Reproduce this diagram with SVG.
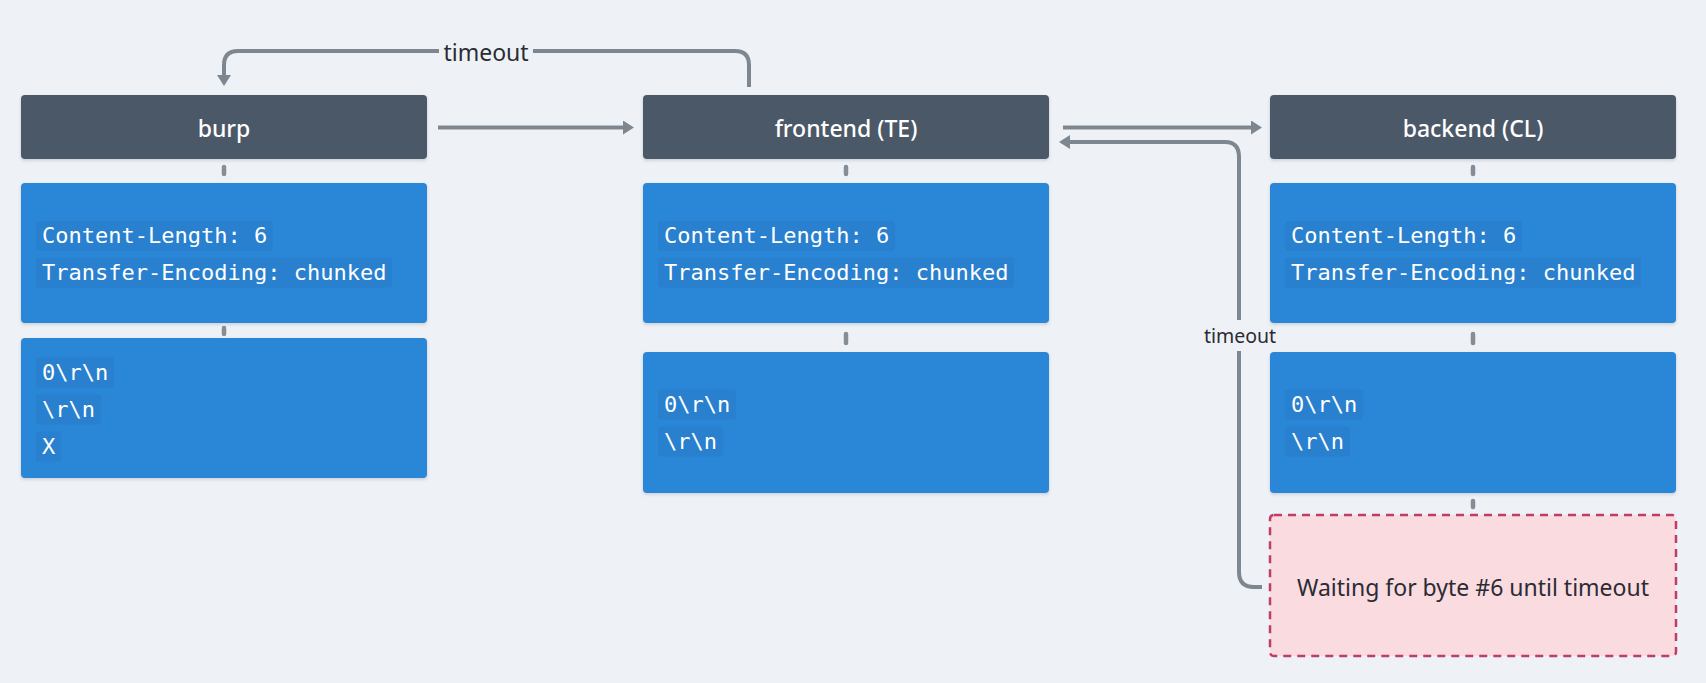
<svg xmlns="http://www.w3.org/2000/svg" width="1706" height="683" viewBox="0 0 1706 683">
  <style>
    .hdr { fill: #4b5967; }
    .hdrtxt { fill: #ffffff; font-family: "Noto Sans", "Open Sans", sans-serif; font-size: 23px; font-weight: 500; text-anchor: middle; }
    .blue { fill: #2c87d7; }
    .code { fill: #ffffff; font-family: "DejaVu Sans Mono", "Liberation Mono", monospace; font-size: 22px; }
    .hl { fill: #1f5fa0; fill-opacity: 0.16; }
    .tick { stroke: #858d96; stroke-width: 4.5; stroke-linecap: round; }
    .conn { fill: none; stroke: #7e878f; stroke-width: 4; }
    .lbl { fill: #2b2b33; font-family: "Noto Sans", "Open Sans", sans-serif; text-anchor: middle; }
    .wait { fill: #f9dbe0; stroke: #c03e66; stroke-width: 2.5; stroke-dasharray: 8 6; }
  </style>
  <defs>
    <marker id="arr" markerUnits="userSpaceOnUse" markerWidth="12" markerHeight="15" refX="5" refY="7" orient="auto">
      <path d="M0,0 L11,7 L0,14 z" fill="#7e878f"/>
    </marker>
    <filter id="sh" x="-5%" y="-10%" width="110%" height="125%">
      <feDropShadow dx="0" dy="1.5" stdDeviation="1.5" flood-color="#1a2a3a" flood-opacity="0.18"/>
    </filter>
  </defs>
  <rect x="0" y="0" width="1706" height="683" fill="#eef2f7"/>

  <g id="connectors">
    <path class="conn" d="M438 127.5 H628" marker-end="url(#arr)"/>
    <path class="conn" d="M1063 127.5 H1256" marker-end="url(#arr)"/>
    <path class="conn" d="M749 87 V65 Q749 51 735 51 H238 Q224 51 224 65 V80" marker-end="url(#arr)"/>
    <rect x="439" y="36" width="94" height="30" fill="#eef2f7"/>
    <text class="lbl" x="486" y="61" font-size="23">timeout</text>
    <path class="conn" d="M1262 587 H1254 Q1239 587 1239 572 V157 Q1239 142 1225 142 H1065" marker-end="url(#arr)"/>
    <rect x="1200" y="320" width="80" height="31" fill="#eef2f7"/>
    <text class="lbl" x="1240" y="343" font-size="19.5">timeout</text>
    <line class="tick" x1="224" y1="167" x2="224" y2="174"/>
    <line class="tick" x1="846" y1="167" x2="846" y2="174"/>
    <line class="tick" x1="1473" y1="167" x2="1473" y2="174"/>
    <line class="tick" x1="224" y1="328" x2="224" y2="334"/>
    <line class="tick" x1="846" y1="334" x2="846" y2="343"/>
    <line class="tick" x1="1473" y1="334" x2="1473" y2="343"/>
    <line class="tick" x1="1473" y1="501" x2="1473" y2="507"/>
  </g>

  <g id="burp">
    <rect class="hdr" x="21" y="95" width="406" height="64" rx="4" filter="url(#sh)"/>
    <text class="hdrtxt" x="224" y="137">burp</text>
  </g>
  <g id="burp-headers">
    <rect class="blue" x="21" y="183" width="406" height="140" rx="4" filter="url(#sh)"/>
    <rect class="hl" x="36" y="221" width="237" height="30" rx="3"/>
    <rect class="hl" x="36" y="257.5" width="356" height="30" rx="3"/>
    <text class="code" x="42" y="243">Content-Length: 6</text>
    <text class="code" x="42" y="280">Transfer-Encoding: chunked</text>
  </g>
  <g id="burp-body">
    <rect class="blue" x="21" y="338" width="406" height="140" rx="4" filter="url(#sh)"/>
    <rect class="hl" x="36" y="357.5" width="78" height="30" rx="3"/>
    <rect class="hl" x="36" y="394.5" width="65" height="30" rx="3"/>
    <rect class="hl" x="36" y="431.5" width="25" height="30" rx="3"/>
    <text class="code" x="42" y="380">0\r\n</text>
    <text class="code" x="42" y="417">\r\n</text>
    <text class="code" x="42" y="454">X</text>
  </g>

  <g id="frontend">
    <rect class="hdr" x="643" y="95" width="406" height="64" rx="4" filter="url(#sh)"/>
    <text class="hdrtxt" x="846" y="137">frontend (TE)</text>
  </g>
  <g id="frontend-headers">
    <rect class="blue" x="643" y="183" width="406" height="140" rx="4" filter="url(#sh)"/>
    <rect class="hl" x="658" y="221" width="237" height="30" rx="3"/>
    <rect class="hl" x="658" y="257.5" width="356" height="30" rx="3"/>
    <text class="code" x="664" y="243">Content-Length: 6</text>
    <text class="code" x="664" y="280">Transfer-Encoding: chunked</text>
  </g>
  <g id="frontend-body">
    <rect class="blue" x="643" y="352" width="406" height="141" rx="4" filter="url(#sh)"/>
    <rect class="hl" x="658" y="389.5" width="78" height="30" rx="3"/>
    <rect class="hl" x="658" y="426.5" width="65" height="30" rx="3"/>
    <text class="code" x="664" y="412">0\r\n</text>
    <text class="code" x="664" y="449">\r\n</text>
  </g>

  <g id="backend">
    <rect class="hdr" x="1270" y="95" width="406" height="64" rx="4" filter="url(#sh)"/>
    <text class="hdrtxt" x="1473" y="137">backend (CL)</text>
  </g>
  <g id="backend-headers">
    <rect class="blue" x="1270" y="183" width="406" height="140" rx="4" filter="url(#sh)"/>
    <rect class="hl" x="1285" y="221" width="237" height="30" rx="3"/>
    <rect class="hl" x="1285" y="257.5" width="356" height="30" rx="3"/>
    <text class="code" x="1291" y="243">Content-Length: 6</text>
    <text class="code" x="1291" y="280">Transfer-Encoding: chunked</text>
  </g>
  <g id="backend-body">
    <rect class="blue" x="1270" y="352" width="406" height="141" rx="4" filter="url(#sh)"/>
    <rect class="hl" x="1285" y="389.5" width="78" height="30" rx="3"/>
    <rect class="hl" x="1285" y="426.5" width="65" height="30" rx="3"/>
    <text class="code" x="1291" y="412">0\r\n</text>
    <text class="code" x="1291" y="449">\r\n</text>
  </g>
  <g id="waiting">
    <rect class="wait" x="1270" y="515" width="406" height="141" rx="4"/>
    <text class="lbl" x="1473" y="596" font-size="23">Waiting for byte #6 until timeout</text>
  </g>
</svg>
